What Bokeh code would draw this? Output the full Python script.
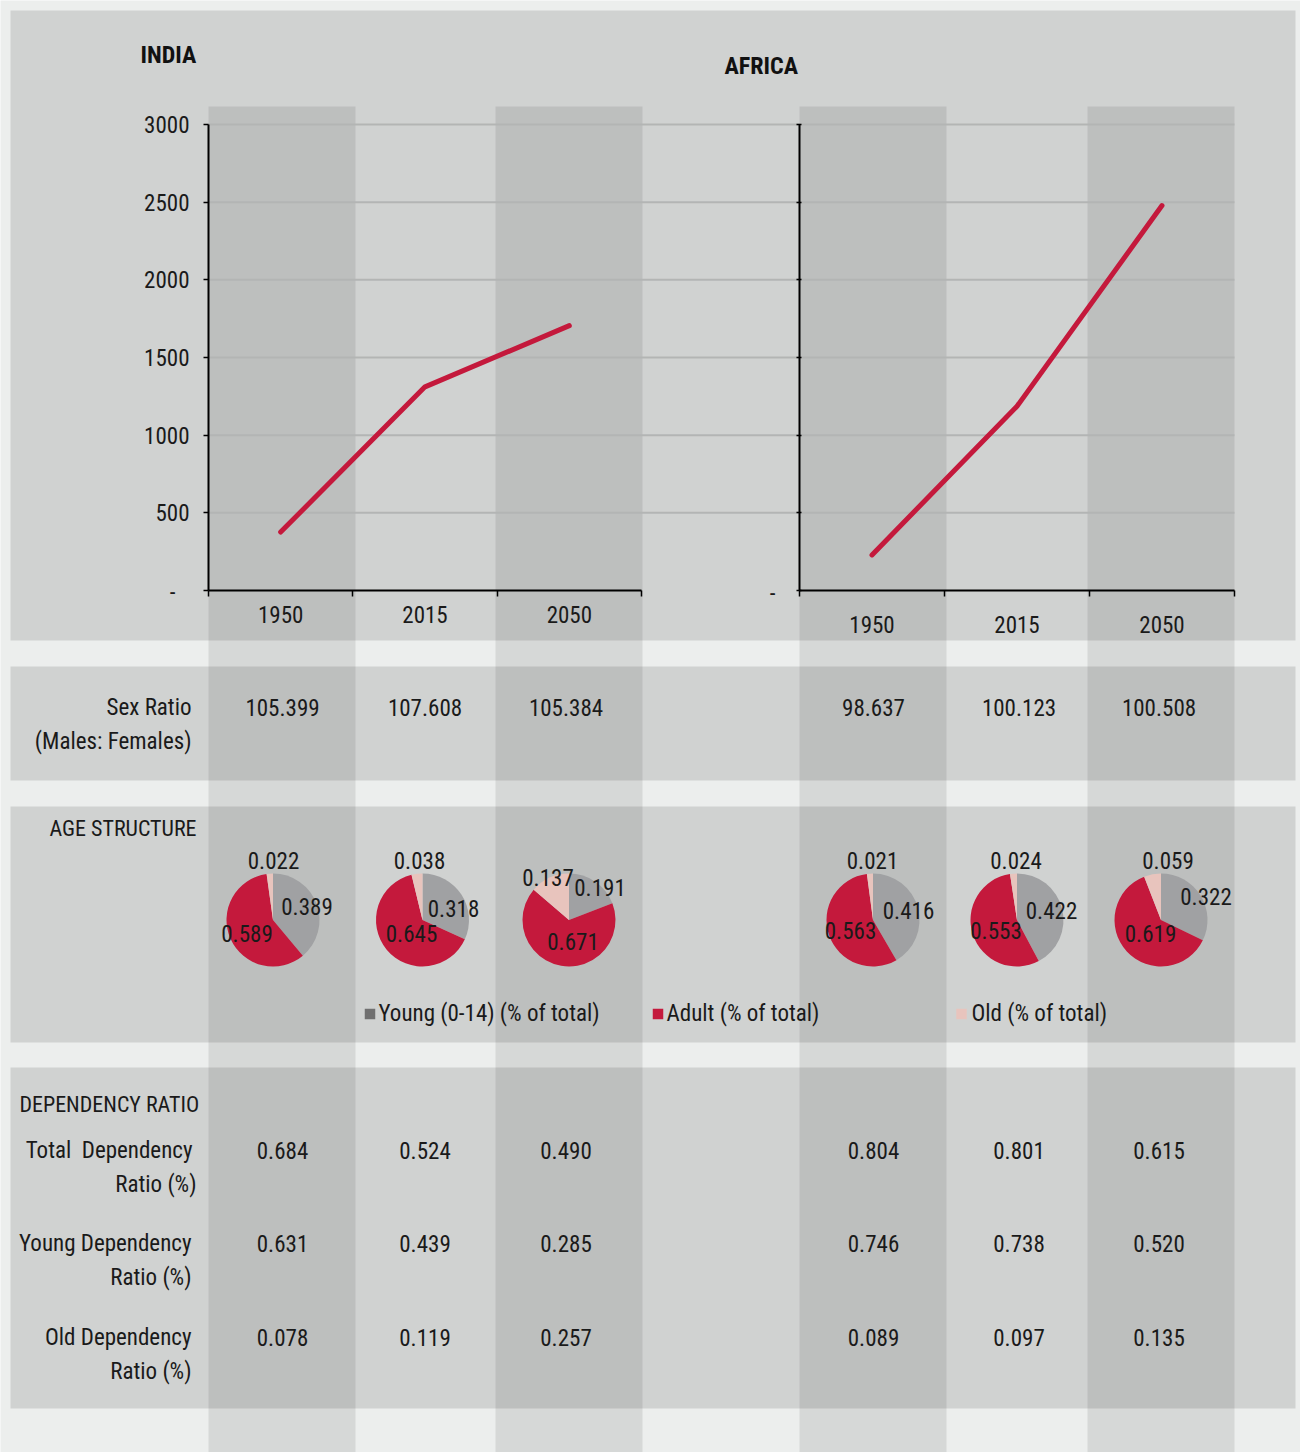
import math
from bokeh.plotting import figure
from bokeh.models import Range1d, LinearAxis, FixedTicker
from bokeh.core.properties import value
from bokeh.embed import file_html
from bokeh.resources import INLINE

# ---------------- data ----------------
years = ["1950", "2015", "2050"]
india_population = [376, 1311, 1705]
africa_population = [229, 1186, 2478]
pop_ticks = [0, 500, 1000, 1500, 2000, 2500, 3000]

india_sex_ratio = [105.399, 107.608, 105.384]
africa_sex_ratio = [98.637, 100.123, 100.508]

india_young = [0.389, 0.318, 0.191]
india_adult = [0.589, 0.645, 0.671]
india_old = [0.022, 0.038, 0.137]
africa_young = [0.416, 0.422, 0.322]
africa_adult = [0.563, 0.553, 0.619]
africa_old = [0.021, 0.024, 0.059]

india_total_dep = [0.684, 0.524, 0.490]
india_young_dep = [0.631, 0.439, 0.285]
india_old_dep = [0.078, 0.119, 0.257]
africa_total_dep = [0.804, 0.801, 0.615]
africa_young_dep = [0.746, 0.738, 0.520]
africa_old_dep = [0.089, 0.097, 0.135]

legend_labels = ["Young (0-14) (% of total)", "Adult (% of total)", "Old (% of total)"]

# ---------------- style / layout ----------------
FONT = "Roboto Condensed, Liberation Sans Narrow, DejaVu Sans Condensed, Open Sans Condensed, Roboto"
BG = "#eceeed"
PANEL = "#d0d2d1"
RED = "#c4193c"
GREY_PIE = "#a0a1a3"
PINK = "#e8c4bd"
LEG_GREY = "#707070"
GRID = "#b3b5b4"
TXT = "#1a1a1a"
FS = "23px"
FS_CAPS = "22px"

W, H = 1300, 1452
X0, Y0 = 0, 0

p = figure(width=W, height=H, x_range=Range1d(X0, X0 + W), y_range=Range1d(Y0 + H, Y0),
           output_backend="svg", toolbar_location=None, min_border=0,
           x_axis_location=None, y_axis_location=None)
p.grid.visible = False
p.outline_line_color = None
p.background_fill_color = BG
p.border_fill_color = BG

# chart geometry (pixels)
AX_ZERO, AX_TOP = 590, 124
INDIA_L, INDIA_R = 208, 641
AFR_L, AFR_R = 799, 1234
ppx = pop_ticks[-1] / (AX_ZERO - AX_TOP)
p.extra_y_ranges = {"pop": Range1d((AX_ZERO - (Y0 + H)) * ppx, (AX_ZERO - Y0) * ppx)}
ki = (INDIA_R - INDIA_L) / len(years)
ka = (AFR_R - AFR_L) / len(years)
p.extra_x_ranges = {
    "india": Range1d((X0 - INDIA_L) / ki, (X0 + W - INDIA_L) / ki),
    "africa": Range1d((X0 - AFR_L) / ka, (X0 + W - AFR_L) / ka),
}

# panels
p.quad(left=10, right=1295, top=[10, 666, 806, 1067], bottom=[640, 780, 1042, 1408],
       fill_color=PANEL, line_color=None)
# column stripes
p.quad(left=[208, 495, 799, 1087], right=[355, 642, 946, 1234], top=106, bottom=1460,
       fill_color="black", fill_alpha=0.09, line_color=None)

# gridlines
p.segment(x0=INDIA_L, x1=AFR_R, y0=pop_ticks[1:], y1=pop_ticks[1:], y_range_name="pop",
          line_color=GRID, line_width=2)

year_pos = [i + 0.5 for i in range(len(years))]
band_edges = list(range(len(years) + 1))


def add_axes(name, show_y_labels, xlab_standoff, tick_out, tick_in):
    yax = LinearAxis(x_range_name=name, y_range_name="pop", fixed_location=0,
                     bounds=(pop_ticks[0], pop_ticks[-1]),
                     ticker=FixedTicker(ticks=pop_ticks, minor_ticks=[]),
                     axis_line_color="black", axis_line_width=2,
                     major_tick_line_color="black", major_tick_line_width=1.5,
                     major_tick_out=tick_out, major_tick_in=tick_in,
                     minor_tick_line_color=None,
                     major_label_standoff=14,
                     major_label_text_font=FONT, major_label_text_font_size=FS,
                     major_label_text_color=TXT if show_y_labels else None,
                     major_label_overrides={0: ""})
    p.add_layout(yax, "left")
    xax = LinearAxis(x_range_name=name, y_range_name="pop", fixed_location=0,
                     bounds=(0, len(years)),
                     ticker=FixedTicker(ticks=year_pos, minor_ticks=band_edges),
                     major_label_overrides={pos: y for pos, y in zip(year_pos, years)},
                     axis_line_color="black", axis_line_width=2,
                     major_tick_line_color=None, major_tick_out=0, major_tick_in=0,
                     minor_tick_line_color="black", minor_tick_line_width=1.5,
                     minor_tick_out=6, minor_tick_in=0,
                     major_label_standoff=xlab_standoff,
                     major_label_text_font=FONT, major_label_text_font_size=FS,
                     major_label_text_color=TXT)
    p.add_layout(xax, "below")


add_axes("india", True, 9, 5, 0)
add_axes("africa", False, 19, 3, 2)

# zero labels "-"
p.text(x=[172, 772], y=[591, 592], text=["-", "-"], text_font=value(FONT),
       text_font_size=FS, text_align="center", text_baseline="middle", text_color=TXT)

# population lines
p.line(x=year_pos, y=india_population, x_range_name="india", y_range_name="pop",
       line_color=RED, line_width=5, line_cap="round", line_join="round")
p.line(x=year_pos, y=africa_population, x_range_name="africa", y_range_name="pop",
       line_color=RED, line_width=5, line_cap="round", line_join="round")

# titles
p.text(x=[140, 724], y=[54, 65], text=["INDIA", "AFRICA"], text_font=value(FONT),
       text_font_size="24px", text_font_style="bold", text_align="left",
       text_baseline="middle", text_color="#111111")


def txt(x, y, t, align="center", size=FS):
    p.text(x=x, y=y, text=t, text_font=value(FONT), text_font_size=size,
           text_align=align, text_baseline="middle", text_color=TXT)


col_india = [282, 424.5, 565.5]
col_africa = [873, 1018.5, 1158.5]
cols = col_india + col_africa

# sex ratio row
txt([191, 191], [707, 741], ["Sex Ratio", "(Males: Females)"], align="right")
txt(cols, [707] * 6, ["%.3f" % v for v in india_sex_ratio + africa_sex_ratio])

# age structure
txt([196], [828], ["AGE STRUCTURE"], align="right", size=FS_CAPS)
PIE_R = 46.5
PIE_Y = 919.5
pie_x = [272.5, 422, 568.5, 872.5, 1016.5, 1160.5]
# label offsets (young, adult, old) relative to pie centre
lab_off = [
    [(34, -14), (-26, 13.5), (0.5, -59.5)],
    [(31, -12), (-11, 13.5), (-3, -59.5)],
    [(31, -33), (4, 21.5), (-21, -42.5)],
    [(35.5, -10), (-22.5, 10.5), (-0.5, -59.5)],
    [(34.5, -10), (-21, 10.5), (-1, -59.5)],
    [(45, -23.5), (-10.5, 13.5), (7, -59.5)],
]
shares = list(zip(india_young + africa_young, india_adult + africa_adult, india_old + africa_old))
colors = [GREY_PIE, RED, PINK]
for i, (cx, sh) in enumerate(zip(pie_x, shares)):
    tot = sum(sh)
    cum = 0.0
    for j, v in enumerate(sh):
        a, b = cum / tot, (cum + v) / tot
        cum += v
        p.wedge(x=cx, y=PIE_Y, radius=PIE_R,
                start_angle=math.pi / 2 - 2 * math.pi * b,
                end_angle=math.pi / 2 - 2 * math.pi * a,
                direction="anticlock", fill_color=colors[j], line_color=None)
    for j, v in enumerate(sh):
        dx, dy = lab_off[i][j]
        txt([cx + dx], [PIE_Y + dy], ["%.3f" % v])

# legend
p.rect(x=[369.5, 657.5, 961], y=1013.5, width=10.5, height=10.5,
       fill_color=[LEG_GREY, RED, PINK], line_color=None)
txt([378, 666, 971], [1013, 1013, 1013], legend_labels, align="left")

# dependency ratios
txt([19], [1104], ["DEPENDENCY RATIO"], align="left", size=FS_CAPS)
txt([192, 196, 191, 191, 191, 191], [1150, 1184, 1243, 1277, 1337, 1371],
    ["Total\u00a0\u00a0Dependency", "Ratio (%)", "Young Dependency", "Ratio (%)",
     "Old Dependency", "Ratio (%)"], align="right")
for yy, ind, afr in [(1150, india_total_dep, africa_total_dep),
                     (1243, india_young_dep, africa_young_dep),
                     (1337, india_old_dep, africa_old_dep)]:
    txt(cols, [yy] * 6, ["%.3f" % v for v in ind + afr])

open("out.html", "w").write(file_html(p, INLINE))
